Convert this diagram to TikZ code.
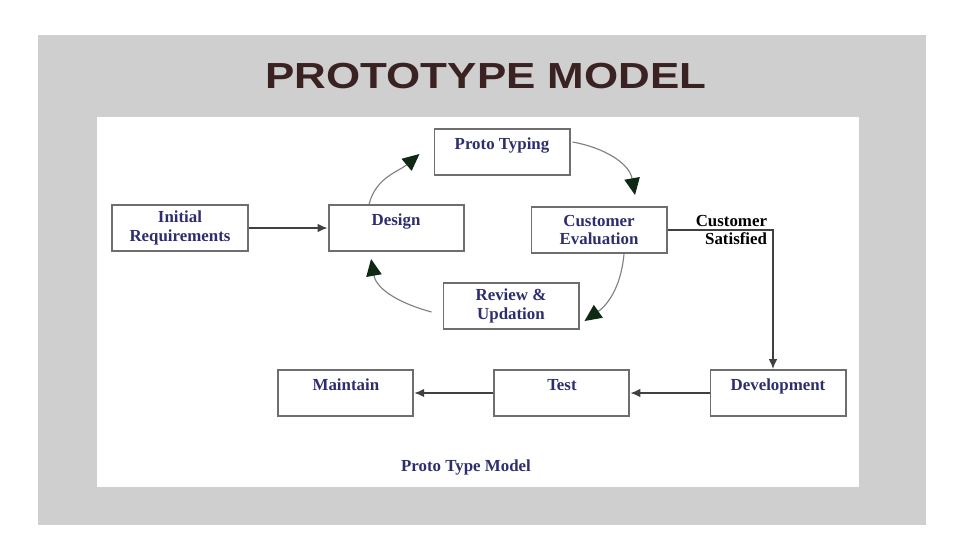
\documentclass[tikz,border=0pt]{standalone}
\usepackage{fontspec}
\setmainfont{Liberation Serif}
\newfontfamily\titlefont{Liberation Sans}[FakeStretch=1.21]
\usetikzlibrary{positioning,arrows.meta,calc}
\definecolor{slidegray}{HTML}{CFCFCF}
\definecolor{boxline}{HTML}{6E6E6E}
\definecolor{boxtext}{HTML}{2E2E6E}
\definecolor{titlebrown}{HTML}{3A2222}
\definecolor{tipgreen}{HTML}{0F2A14}

\begin{document}
\begin{tikzpicture}[
  x=0.025cm, y=0.025cm,
  node distance=5.4cm,
  box/.style={draw=boxline, line width=1.4pt, fill=white, minimum width=3.375cm, minimum height=1.15cm, inner sep=0pt, align=center, text=boxtext, font=\bfseries\fontsize{12pt}{13pt}\selectfont},
  oneline/.style={text height=8pt, text depth=11pt},
  arrow/.style={draw=black!75, line width=0.9pt, -{Latex[length=7pt,width=6pt]}},
  roundarrow/.style={draw=black!50, line width=0.8pt, -{Triangle[length=12pt,width=11pt,color=tipgreen]}},
  caption/.style={text=boxtext, font=\bfseries\fontsize{12pt}{13pt}\selectfont}
]
% slide and white panel
\fill[white] (0,0) rectangle (960,-540);
\fill[slidegray] (38,-35) rectangle (926,-525);
\fill[white] (97,-117) rectangle (859,-487);
\node[font=\titlefont\bfseries\fontsize{25.8pt}{28pt}\selectfont, text=titlebrown] (title) at (486,-76) {PROTOTYPE MODEL};

\node[box] (init) at (180,-228) {Initial\\Requirements};
\node[box, oneline, right of=init] (design) {Design};
\node[box, oneline] (proto) at (502,-152) {Proto Typing};
\node[box] (cust) at (599,-230) {Customer\\Evaluation};
\node[box] (review) at (511,-306) {Review \&\\Updation};
\node[box, oneline] (dev) at (778,-393) {Development};
\node[box, oneline, left of=dev] (test) {Test};
\node[box, oneline, left of=test] (maintain) {Maintain};
\node[caption, text=black, align=right, anchor=east] (sat) at (772,-230) {Customer\\Satisfied};
\node[caption] (name) at (466,-467) {Proto Type Model};

\draw[arrow] (init) -- (design);
\draw[arrow] (cust.east) -| ($(dev.north)+(-5,0)$);
\draw[arrow] (dev) -- (test);
\draw[arrow] (test) -- (maintain);
% the prototyping loop
\draw[roundarrow] ($(design.north)+(-27,0)$) to[out=75,in=220] ($(proto.west)+(-14,-2)$);
\draw[roundarrow] ($(proto.east)+(2,10)$) to[out=-10,in=100] ($(cust.north)+(36,11)$);
\draw[roundarrow] ($(cust.south)+(25,0)$) to[out=-95,in=35] ($(review.east)+(5,-15)$);
\draw[roundarrow] ($(review.west)+(-11,-6)$) to[out=165,in=-80] ($(design.south)+(-25,-7)$);
\end{tikzpicture}
\end{document}
